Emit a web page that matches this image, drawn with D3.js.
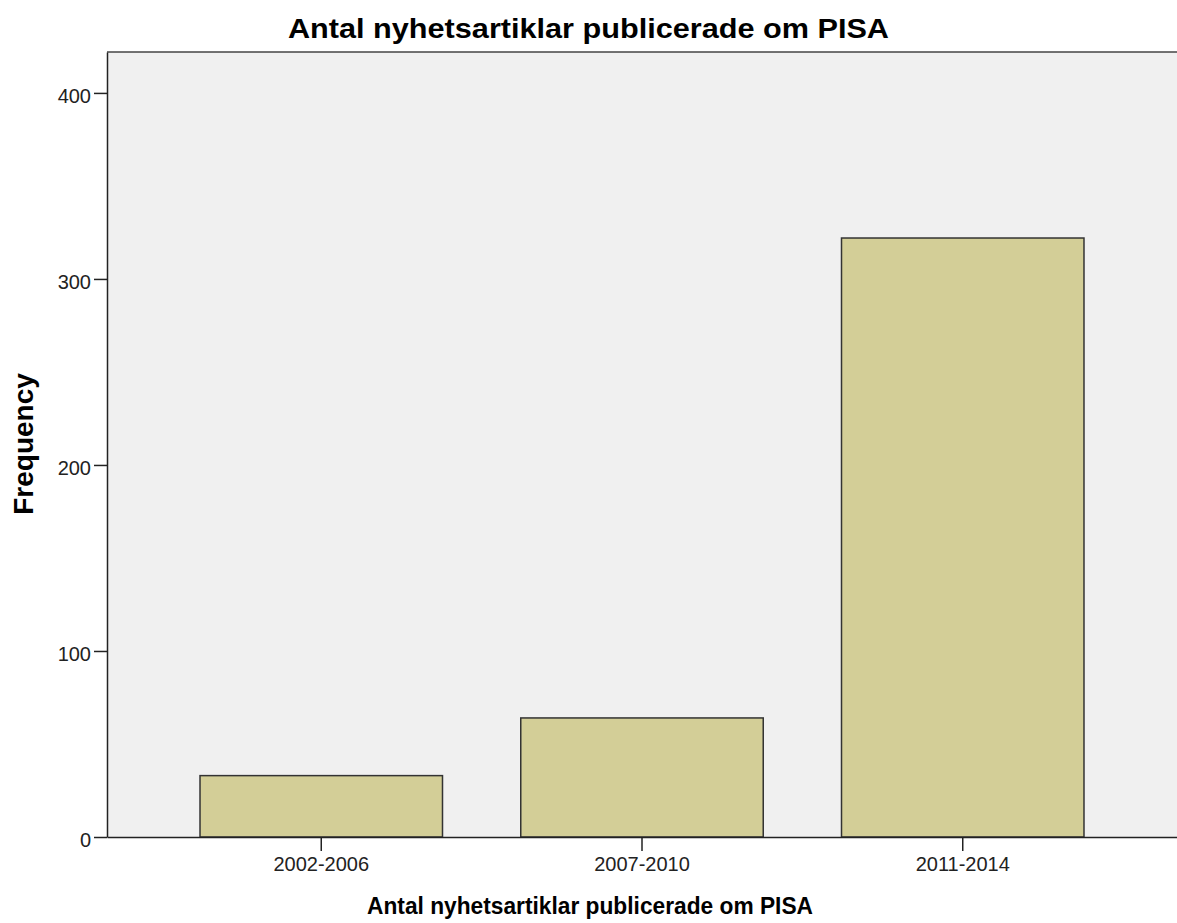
<!DOCTYPE html>
<html>
<head>
<meta charset="utf-8">
<script src="https://cdn.jsdelivr.net/npm/d3@7"></script>
<style>
  body { margin: 0; background: #fff; }
  text { font-family: "Liberation Sans", Arial, sans-serif; }
</style>
</head>
<body>
<svg class="chart" width="1177" height="923"></svg>
<script>
let categories = ["2002-2006", "2007-2010", "2011-2014"];
let counts = [33, 64, 322];
let yTicks = [0, 100, 200, 300, 400];

function drawChart(svgClass) {
  let svg = d3.select(svgClass);

  let left = 107;
  let right = 1177;
  let top = 52;
  let bottom = 837;

  let xScale = d3.scaleBand()
    .range([left, right])
    .domain(categories)
    .paddingInner(0.244)
    .paddingOuter(0.29);

  let yScale = d3.scaleLinear()
    .range([bottom, top])
    .domain([0, 422]);

  // plot background
  svg.append("rect")
    .attr("x", left)
    .attr("y", top)
    .attr("width", right - left)
    .attr("height", bottom - top)
    .attr("fill", "#f0f0f0");

  // top border
  svg.append("line")
    .attr("x1", left).attr("x2", right)
    .attr("y1", top).attr("y2", top)
    .attr("stroke", "#444")
    .attr("stroke-width", 1.5);

  // bars
  svg.selectAll(".bar")
    .data(categories)
    .enter()
    .append("rect")
    .attr("class", "bar")
    .attr("x", d => xScale(d))
    .attr("y", (d, i) => yScale(counts[i]))
    .attr("width", xScale.bandwidth())
    .attr("height", (d, i) => bottom - yScale(counts[i]))
    .attr("fill", "#d3ce97")
    .attr("stroke", "#333")
    .attr("stroke-width", 1.5);

  // y axis
  svg.append("g")
    .attr("transform", "translate(" + left + ",0)")
    .call(d3.axisLeft(yScale).tickValues(yTicks).tickSize(13).tickSizeOuter(0).tickPadding(3))
    .call(g => g.select(".domain").attr("stroke", "#222").attr("stroke-width", 1.5))
    .call(g => g.selectAll(".tick line").attr("stroke", "#222").attr("stroke-width", 1.5))
    .call(g => g.selectAll("text").attr("font-size", 20).attr("fill", "#222").attr("dy", "0.47em")
      .attr("font-family", "'Liberation Sans', Arial, sans-serif"));

  // x axis
  svg.append("g")
    .attr("transform", "translate(0," + bottom + ")")
    .call(d3.axisBottom(xScale).tickSize(14).tickPadding(6).tickSizeOuter(0))
    .call(g => g.select(".domain").attr("stroke", "#222").attr("stroke-width", 1.5))
    .call(g => g.selectAll(".tick line").attr("stroke", "#222").attr("stroke-width", 1.5))
    .call(g => g.selectAll("text").attr("font-size", 20).attr("fill", "#222")
      .attr("font-family", "'Liberation Sans', Arial, sans-serif"));

  // title
  svg.append("text")
    .attr("x", 288)
    .attr("y", 38)
    .attr("font-size", 27)
    .attr("font-weight", "bold")
    .attr("textLength", 601)
    .attr("lengthAdjust", "spacingAndGlyphs")
    .text("Antal nyhetsartiklar publicerade om PISA");

  // x axis title
  svg.append("text")
    .attr("x", 367)
    .attr("y", 914)
    .attr("font-size", 23)
    .attr("font-weight", "bold")
    .attr("textLength", 446)
    .attr("lengthAdjust", "spacingAndGlyphs")
    .text("Antal nyhetsartiklar publicerade om PISA");

  // y axis title
  svg.append("text")
    .attr("transform", "translate(33,444)rotate(-90)")
    .attr("text-anchor", "middle")
    .attr("font-size", 28)
    .attr("font-weight", "bold")
    .text("Frequency");
}

drawChart(".chart");
</script>
</body>
</html>
